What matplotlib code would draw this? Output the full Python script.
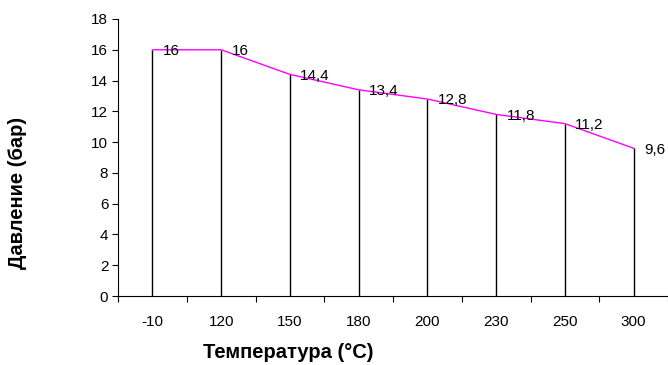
import matplotlib.pyplot as plt

plt.rcParams['font.family'] = ['Liberation Sans', 'DejaVu Sans']

# data
temps = ['-10', '120', '150', '180', '200', '230', '250', '300']
pressure = [16, 16, 14.4, 13.4, 12.8, 11.8, 11.2, 9.6]
labels = ['16', '16', '14,4', '13,4', '12,8', '11,8', '11,2', '9,6']

fig = plt.figure(figsize=(6.68, 3.65), dpi=100)
ax = fig.add_axes([118 / 668, 1 - 296 / 365, 1 - 118 / 668, (296 - 19) / 365])

x = list(range(len(temps)))
ax.vlines(x, 0, pressure, color='black', linewidth=1)
ax.plot(x, pressure, color='#FF00FF', linewidth=1)
for xi, yi, lab in zip(x, pressure, labels):
    ax.annotate(lab, (xi, yi), xytext=(7.5, -1), textcoords='offset points',
                ha='left', va='center', fontsize=11)

ax.set_xlim(-0.5, len(temps) - 0.5)
ax.set_ylim(0, 18)
ax.set_yticks(range(0, 19, 2))
ax.set_xticks([i - 0.5 for i in range(len(temps) + 1)])
ax.set_xticklabels([])
ax.set_xticks(x, minor=True)
ax.set_xticklabels(temps, minor=True)
ax.tick_params(axis='x', which='minor', length=0, pad=14, labelsize=11)
ax.tick_params(axis='x', which='major', length=4, direction='out')
ax.tick_params(axis='y', length=4, direction='out', labelsize=11, pad=3)

for s in ['top', 'right']:
    ax.spines[s].set_visible(False)

fig.text(288 / 668, 1 - 353 / 365, 'Температура (°C)', ha='center', va='center',
         fontsize=14.5, fontweight='bold')
fig.text(18 / 668, 1 - 193 / 365, 'Давление (бар)', ha='center', va='center',
         fontsize=14.5, fontweight='bold', rotation=90)

fig.savefig('out.png', dpi=100)
